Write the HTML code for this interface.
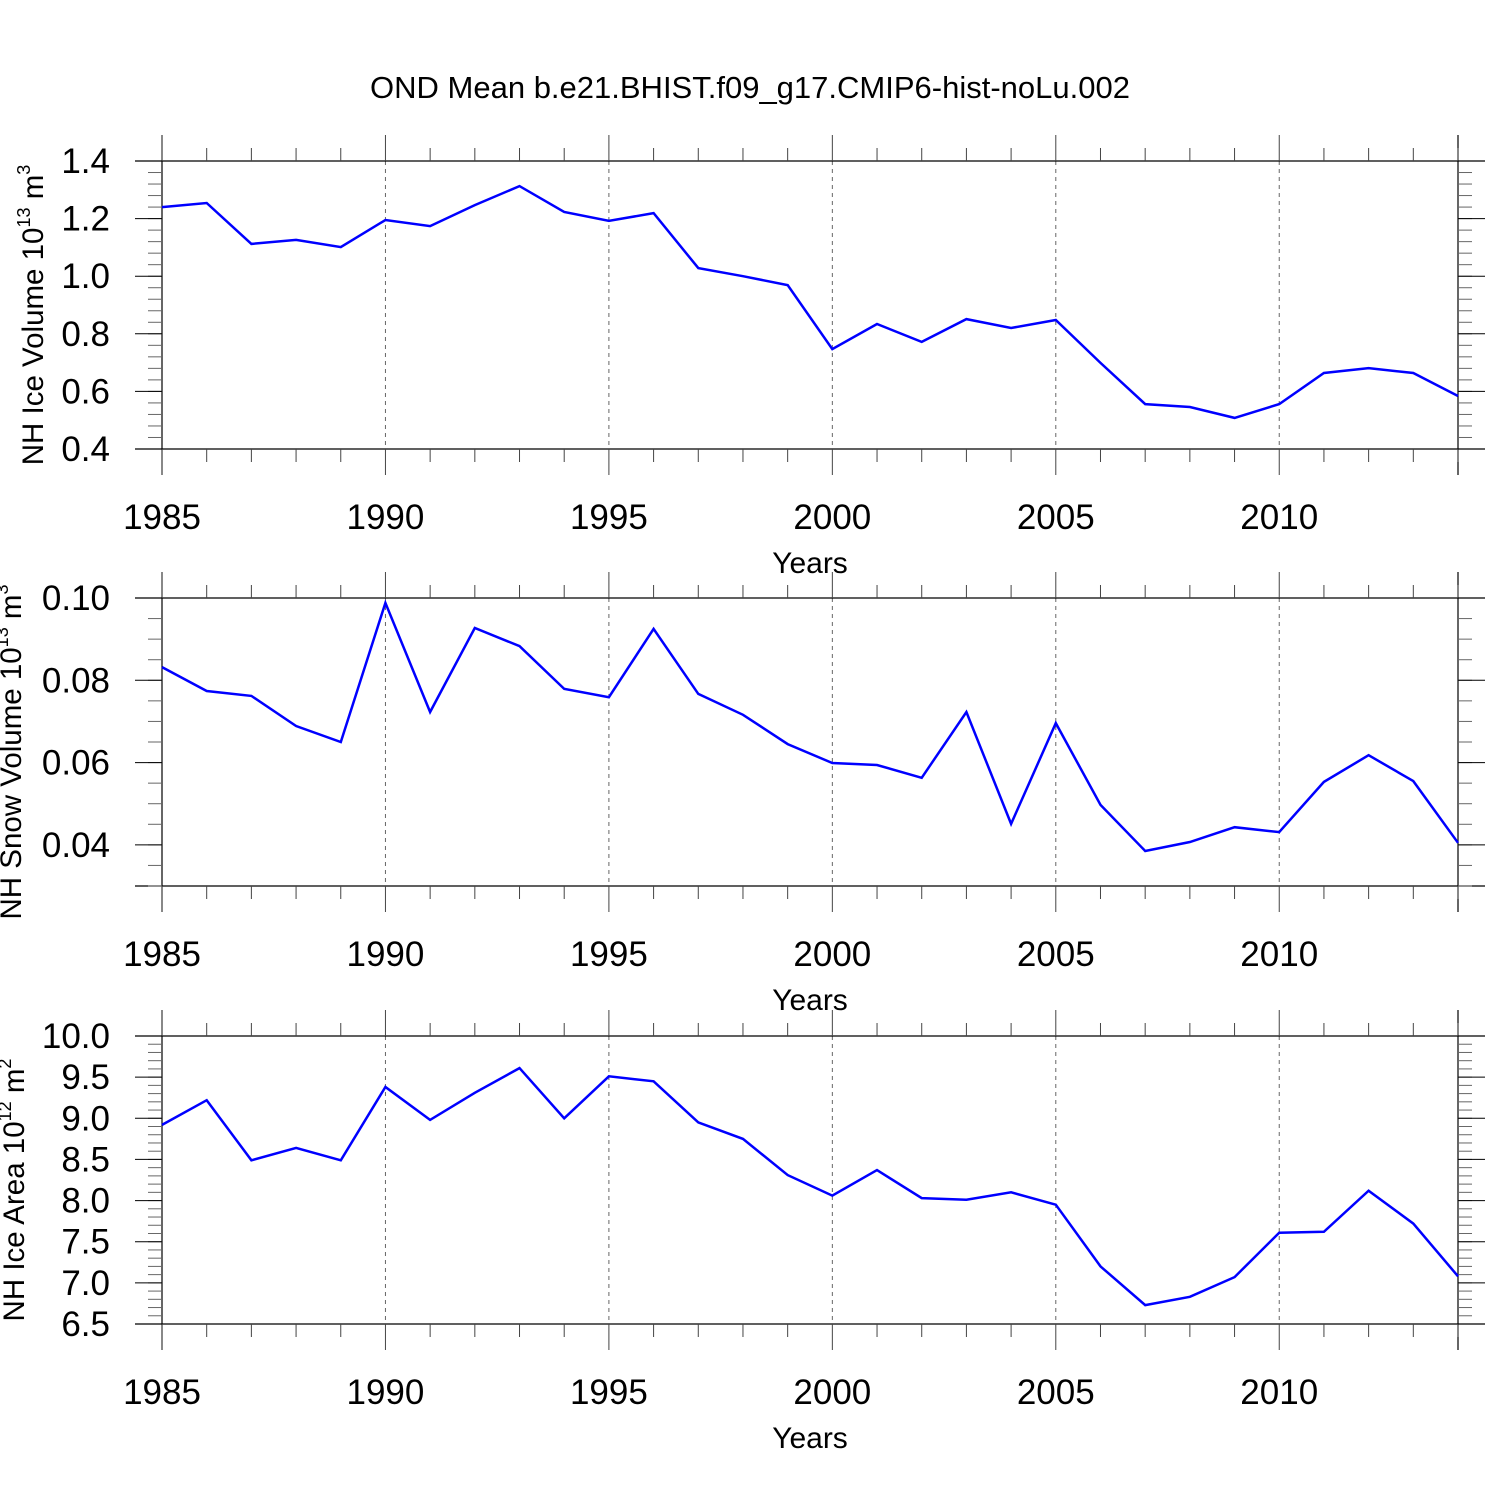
<!DOCTYPE html>
<html><head><meta charset="utf-8"><style>
html,body{margin:0;padding:0;background:#fff}
svg{display:block}
text{font-family:"Liberation Sans",Helvetica,Arial,sans-serif;fill:#000}
</style></head><body>
<svg id="chart" width="1500" height="1500" viewBox="0 0 1500 1500" xmlns="http://www.w3.org/2000/svg">
<text x="750" y="98" font-size="31" text-anchor="middle">OND Mean b.e21.BHIST.f09_g17.CMIP6-hist-noLu.002</text>
</svg>
<script>
const years = [1985,1986,1987,1988,1989,1990,1991,1992,1993,1994,1995,1996,1997,1998,1999,2000,2001,2002,2003,2004,2005,2006,2007,2008,2009,2010,2011,2012,2013,2014];
const iceVolume = [1.24,1.254,1.112,1.126,1.101,1.195,1.174,1.247,1.313,1.223,1.192,1.219,1.028,1.0,0.969,0.747,0.834,0.772,0.851,0.820,0.848,0.699,0.556,0.546,0.508,0.556,0.664,0.681,0.664,0.584];
const snowVolume = [0.0832,0.0774,0.0762,0.0689,0.065,0.0988,0.0723,0.0927,0.0883,0.0779,0.0759,0.0925,0.0767,0.0716,0.0645,0.0599,0.0594,0.0563,0.0723,0.0451,0.0696,0.0497,0.0385,0.0407,0.0443,0.0431,0.0553,0.0618,0.0555,0.0405];
const iceArea = [8.92,9.22,8.49,8.64,8.49,9.38,8.98,9.31,9.61,9.00,9.51,9.45,8.95,8.75,8.31,8.06,8.37,8.03,8.01,8.10,7.95,7.20,6.73,6.83,7.07,7.61,7.62,8.12,7.72,7.08];
const xTickLabels = [1985,1990,1995,2000,2005,2010];
const iceVolTicks = ["0.4","0.6","0.8","1.0","1.2","1.4"];
const snowTicks = ["0.04","0.06","0.08","0.10"];
const areaTicks = ["6.5","7.0","7.5","8.0","8.5","9.0","9.5","10.0"];

const NS='http://www.w3.org/2000/svg';
const svg=document.getElementById('chart');
const X0=162,X1=1458;
function xs(y){return X0+(y-1985)/(2014-1985)*(X1-X0);}
function mk(tag,attrs,parent){const e=document.createElementNS(NS,tag);for(const k in attrs)e.setAttribute(k,attrs[k]);(parent||svg).appendChild(e);return e;}

const panels=[
 {name:'ice-volume',top:161,vals:iceVolume,ymin:0.4,ymax:1.4,ticks:iceVolTicks,minor:0.04,title:'NH Ice Volume 10',sup:'13',unit:' m',usup:'3',tx:43},
 {name:'snow-volume',top:598,vals:snowVolume,ymin:0.03,ymax:0.10,ticks:snowTicks,minor:0.005,title:'NH Snow Volume 10',sup:'13',unit:' m',usup:'3',tx:21},
 {name:'ice-area',top:1036,vals:iceArea,ymin:6.5,ymax:10.0,ticks:areaTicks,minor:0.1,title:'NH Ice Area 10',sup:'12',unit:' m',usup:'2',tx:24}
];
panels.forEach(p=>{
 const T=p.top,B=p.top+288;
 const g=mk('g',{});
 
 
 function ys(v){return B-(v-p.ymin)/(p.ymax-p.ymin)*(B-T);}
 const st='#000';
 xTickLabels.slice(1).forEach(y=>{const l=mk('line',{x1:xs(y),x2:xs(y),y1:T,y2:B,stroke:'#666','stroke-width':1,'stroke-dasharray':'4,4'},g);
  });
 mk('line',{x1:135,x2:1485,y1:T,y2:T,stroke:st,'stroke-width':1.2},g);
 mk('line',{x1:135,x2:1485,y1:B,y2:B,stroke:st,'stroke-width':1.2},g);
 mk('line',{x1:X0,x2:X0,y1:T-26,y2:B+26,stroke:st,'stroke-width':1.2},g);
 mk('line',{x1:X1,x2:X1,y1:T-26,y2:B+26,stroke:st,'stroke-width':1.2},g);
 years.forEach(y=>{const maj=(y%5===0);const L=maj?26:13;const x=xs(y);
  mk('line',{x1:x,x2:x,y1:T-L,y2:T,stroke:'#444','stroke-width':1},g);
  mk('line',{x1:x,x2:x,y1:B,y2:B+L,stroke:'#444','stroke-width':1},g);});
 xTickLabels.forEach(y=>{const t=mk('text',{x:xs(y),y:B+80,'font-size':35,'text-anchor':'middle'},g);t.textContent=y;
  });
 const xt=mk('text',{x:810,y:B+124,'font-size':30,'text-anchor':'middle'},g);xt.textContent='Years';
 
 const n=Math.round((p.ymax-p.ymin)/p.minor);
 for(let i=0;i<=n;i++){const v=p.ymin+i*p.minor;const y=ys(v);
  mk('line',{x1:X0-14,x2:X0,y1:y,y2:y,stroke:'#666','stroke-width':1},g);
  mk('line',{x1:X1,x2:X1+14,y1:y,y2:y,stroke:'#666','stroke-width':1},g);}
 p.ticks.forEach(s=>{const y=ys(parseFloat(s));
  mk('line',{x1:135,x2:X0,y1:y,y2:y,stroke:st,'stroke-width':1},g);
  mk('line',{x1:X1,x2:1485,y1:y,y2:y,stroke:st,'stroke-width':1},g);
  const t=mk('text',{x:110,y:y+12,'font-size':35,'text-anchor':'end'},g);t.textContent=s;
  });
 const yc=(T+B)/2+10;
 const yt=mk('text',{x:0,y:0,'font-size':29.5,'text-anchor':'middle',transform:`translate(${p.tx},${yc}) rotate(-90)`},g);
 
 const a=mk('tspan',{},yt);a.textContent=p.title;
 const b=mk('tspan',{dy:-13,'font-size':18},yt);b.textContent=p.sup;
 const c=mk('tspan',{dy:13},yt);c.textContent=p.unit;
 const d=mk('tspan',{dy:-13,'font-size':18},yt);d.textContent=p.usup;
 const pts=p.vals.map((v,i)=>xs(years[i]).toFixed(1)+','+ys(v).toFixed(1)).join(' ');
 const line=mk('polyline',{points:pts,fill:'none',stroke:'#0000ff','stroke-width':2.5,'stroke-linejoin':'miter'},g);
 
 
});
</script>
</body></html>
